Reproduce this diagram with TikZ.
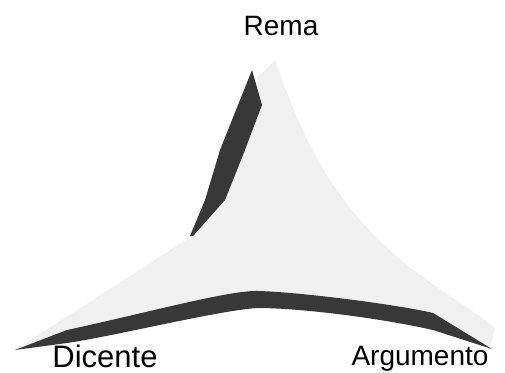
\documentclass[tikz,border=0pt]{standalone}
\usepackage{fontspec}
\setmainfont{Liberation Sans}
\begin{document}
\begin{tikzpicture}[x=1pt,y=-1pt,
  face/.style={fill=black!6, draw=none},
  band/.style={fill=black!78, draw=none},
  lbl/.style={font=\fontsize{28}{30}\selectfont, anchor=base, inner sep=0pt}]
\useasboundingbox (0,0) rectangle (505,372);
% light top face
\path[face] (257,78) -- (275,60)
  .. controls (300,130) and (330,210) .. (423,277)
  .. controls (450,297) and (480,315) .. (495,328)
  -- (490,348)
  .. controls (460,325) and (300,290) .. (258,292)
  .. controls (200,298) and (80,325) .. (15,350)
  -- (192,236) -- (225,200) -- (245,150) -- (262,105) -- cycle;
% left dark band
\path[band] (252,70) -- (262,105) -- (245,150) -- (225,200) -- (193,236)
  -- (190,236) -- (205,200) -- (220,150) -- (240,100) -- cycle;
% bottom dark band
\path[band] (15,350) -- (67,330)
  .. controls (150,312) and (230,290) .. (258,291)
  .. controls (300,292) and (400,305) .. (433,313)
  -- (492,349) -- (433,330)
  .. controls (380,318) and (300,308) .. (258,308)
  .. controls (220,310) and (120,335) .. (67,343) -- cycle;
% labels
\node[lbl] (rema) at (281,35) {Rema};
\node[lbl, font=\fontsize{31}{33}\selectfont] (dic) at (105,367) {Dicente};
\node[lbl] (arg) at (420,365) {Argumento};
\end{tikzpicture}
\end{document}
